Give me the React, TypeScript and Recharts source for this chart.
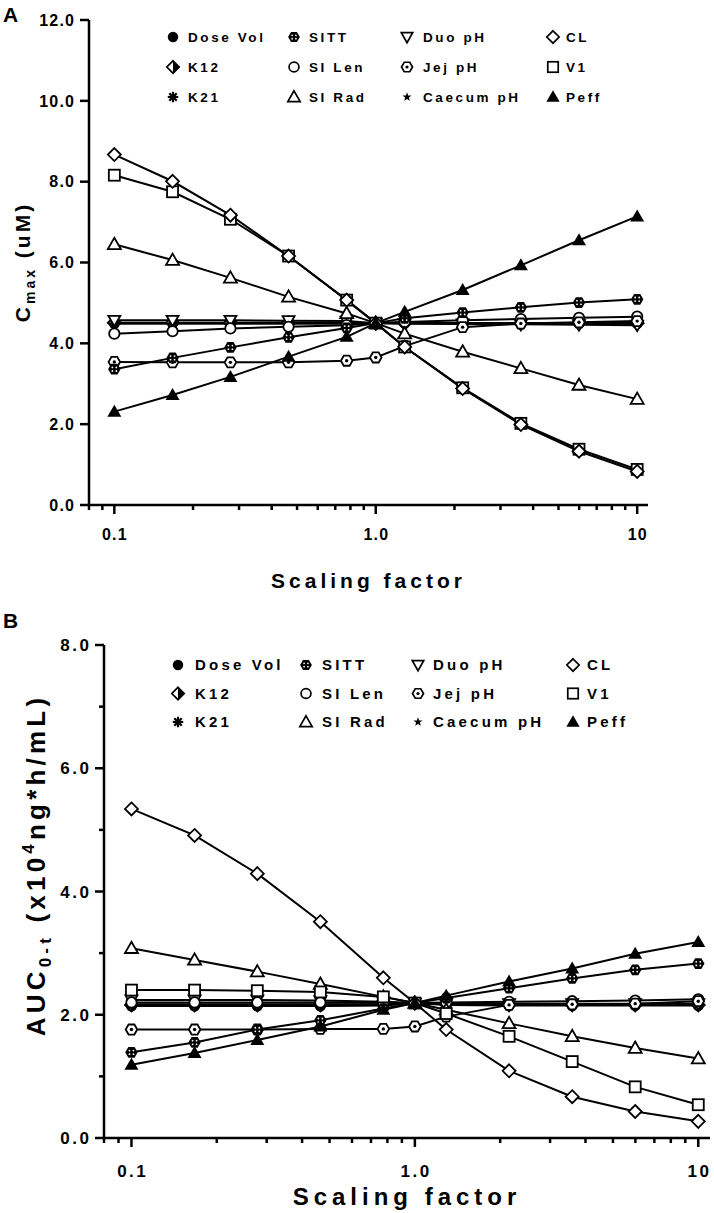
import React from 'react'
import { LineChart, Line, XAxis, YAxis } from 'recharts'

const FONT = '"Liberation Sans", Arial, Helvetica, sans-serif'

// scaling factors (log spaced)
const xs = [0.1, 0.167, 0.278, 0.464, 0.774, 1, 1.29, 2.15, 3.59, 5.99, 10]
const xTicks = [0.08, 0.09, 0.1, 0.2, 0.3, 0.4, 0.5, 0.6, 0.7, 0.8, 0.9, 1, 2, 3, 4, 5, 6, 7, 8, 9, 10]
const xMajor = [0.1, 1, 10]
const xLabels: Record<string, string> = { '0.1': '0.1', '1': '1.0', '10': '10' }
const yTicksA = [0, 2, 4, 6, 8, 10, 12]
const yTicksB = [0, 1, 2, 3, 4, 5, 6, 7, 8]

// panel A: Cmax (uM)
const doseVolA = [4.5, 4.5, 4.5, 4.5, 4.5, 4.5, 4.52, 4.5, 4.5, 4.5, 4.5]
const sittA = [3.36, 3.64, 3.9, 4.15, 4.38, 4.5, 4.62, 4.76, 4.89, 5.01, 5.09]
const duoA = [4.57, 4.57, 4.57, 4.56, 4.55, 4.5, 4.49, 4.48, 4.47, 4.46, 4.45]
const clA = [8.67, 8.01, 7.17, 6.16, 5.07, 4.5, 3.91, 2.88, 1.99, 1.33, 0.83]
const k12A = [4.51, 4.51, 4.51, 4.51, 4.51, 4.5, 4.5, 4.5, 4.5, 4.5, 4.5]
const siLenA = [4.24, 4.3, 4.37, 4.41, 4.45, 4.5, 4.53, 4.57, 4.6, 4.63, 4.66]
const jejA = [3.54, 3.53, 3.53, 3.53, 3.57, 3.65, 3.93, 4.4, 4.49, 4.52, 4.55]
const v1A = [8.16, 7.75, 7.07, 6.16, 5.07, 4.5, 3.91, 2.9, 2.02, 1.38, 0.88]
const k21A = [4.49, 4.49, 4.49, 4.49, 4.49, 4.5, 4.5, 4.49, 4.49, 4.49, 4.49]
const siRadA = [6.45, 6.06, 5.62, 5.15, 4.74, 4.5, 4.24, 3.79, 3.38, 2.97, 2.62]
const caecumA = [4.5, 4.5, 4.5, 4.5, 4.5, 4.5, 4.5, 4.5, 4.5, 4.5, 4.5]
const peffA = [2.31, 2.72, 3.17, 3.67, 4.16, 4.5, 4.78, 5.32, 5.93, 6.55, 7.14]

// panel B: AUC0-t (x10^4 ng*h/mL)
const doseVolB = [2.14, 2.14, 2.14, 2.14, 2.15, 2.19, 2.16, 2.15, 2.15, 2.15, 2.15]
const sittB = [1.39, 1.55, 1.76, 1.91, 2.1, 2.19, 2.27, 2.43, 2.59, 2.73, 2.83]
const duoB = [2.24, 2.24, 2.24, 2.23, 2.21, 2.19, 2.19, 2.18, 2.18, 2.18, 2.18]
const clB = [5.34, 4.91, 4.29, 3.51, 2.6, 2.19, 1.76, 1.09, 0.67, 0.43, 0.27]
const k12B = [2.16, 2.16, 2.16, 2.16, 2.17, 2.19, 2.17, 2.16, 2.16, 2.16, 2.16]
const siLenB = [2.2, 2.2, 2.2, 2.2, 2.2, 2.19, 2.2, 2.21, 2.22, 2.23, 2.25]
const jejB = [1.76, 1.76, 1.76, 1.77, 1.77, 1.81, 1.97, 2.16, 2.17, 2.18, 2.22]
const v1B = [2.4, 2.4, 2.39, 2.37, 2.29, 2.19, 2.02, 1.65, 1.24, 0.83, 0.54]
const k21B = [2.15, 2.15, 2.15, 2.15, 2.16, 2.19, 2.17, 2.16, 2.16, 2.16, 2.16]
const siRadB = [3.08, 2.89, 2.7, 2.5, 2.29, 2.19, 2.08, 1.86, 1.65, 1.46, 1.29]
const caecumB = [2.17, 2.17, 2.17, 2.17, 2.17, 2.19, 2.18, 2.17, 2.17, 2.17, 2.17]
const peffB = [1.19, 1.38, 1.59, 1.81, 2.08, 2.19, 2.31, 2.54, 2.75, 2.99, 3.18]

type Shape =
  | 'circle' | 'hexFill' | 'triDown' | 'diamond' | 'diamondHalf' | 'circleOpen'
  | 'hexDot' | 'square' | 'asterisk' | 'triUp' | 'star' | 'triFill'

// legend order (row by row, 4 columns)
const series: { key: string; name: string; shape: Shape; a: number[]; b: number[] }[] = [
  { key: 'doseVol', name: 'Dose Vol', shape: 'circle', a: doseVolA, b: doseVolB },
  { key: 'sitt', name: 'SITT', shape: 'hexFill', a: sittA, b: sittB },
  { key: 'duo', name: 'Duo pH', shape: 'triDown', a: duoA, b: duoB },
  { key: 'cl', name: 'CL', shape: 'diamond', a: clA, b: clB },
  { key: 'k12', name: 'K12', shape: 'diamondHalf', a: k12A, b: k12B },
  { key: 'siLen', name: 'SI Len', shape: 'circleOpen', a: siLenA, b: siLenB },
  { key: 'jej', name: 'Jej pH', shape: 'hexDot', a: jejA, b: jejB },
  { key: 'v1', name: 'V1', shape: 'square', a: v1A, b: v1B },
  { key: 'k21', name: 'K21', shape: 'asterisk', a: k21A, b: k21B },
  { key: 'siRad', name: 'SI Rad', shape: 'triUp', a: siRadA, b: siRadB },
  { key: 'caecum', name: 'Caecum pH', shape: 'star', a: caecumA, b: caecumB },
  { key: 'peff', name: 'Peff', shape: 'triFill', a: peffA, b: peffB },
]

// draw order: V1 under CL
const drawOrder = ['doseVol', 'k12', 'k21', 'caecum', 'duo', 'siLen', 'jej', 'sitt', 'siRad', 'v1', 'cl', 'peff']

const dataA = xs.map((x, i) => {
  const row: Record<string, number> = { x }
  series.forEach(s => { row[s.key] = s.a[i] })
  return row
})
const dataB = xs.map((x, i) => {
  const row: Record<string, number> = { x }
  series.forEach(s => { row[s.key] = s.b[i] })
  return row
})

function hexPoints(r: number) {
  const pts = []
  for (let k = 0; k < 6; k++) {
    const a = (Math.PI / 3) * k
    pts.push(`${(r * Math.cos(a)).toFixed(2)},${(r * Math.sin(a)).toFixed(2)}`)
  }
  return pts.join(' ')
}

function starPoints(r: number) {
  const pts = []
  for (let k = 0; k < 10; k++) {
    const rr = k % 2 === 0 ? r : r * 0.42
    const a = -Math.PI / 2 + (Math.PI / 5) * k
    pts.push(`${(rr * Math.cos(a)).toFixed(2)},${(rr * Math.sin(a)).toFixed(2)}`)
  }
  return pts.join(' ')
}

function Marker({ cx, cy, shape, scale = 1 }: { cx: number; cy: number; shape: Shape; scale?: number }) {
  const sw = 1.8
  let body: React.ReactNode = null
  switch (shape) {
    case 'circle':
      body = <circle r={5.5} fill="#000" />
      break
    case 'circleOpen':
      body = <circle r={5.2} fill="#fff" stroke="#000" strokeWidth={sw} />
      break
    case 'hexFill':
      body = (
        <g>
          <polygon points={hexPoints(6.2)} fill="#000" />
          <circle cx={-2} cy={-1.8} r={0.9} fill="#fff" />
          <circle cx={2} cy={-1.8} r={0.9} fill="#fff" />
          <circle cx={-2} cy={1.8} r={0.9} fill="#fff" />
          <circle cx={2} cy={1.8} r={0.9} fill="#fff" />
        </g>
      )
      break
    case 'hexDot':
      body = (
        <g>
          <polygon points={hexPoints(5.8)} fill="#fff" stroke="#000" strokeWidth={sw} />
          <circle r={1.7} fill="#000" />
        </g>
      )
      break
    case 'triDown':
      body = <polygon points="-6,-4.5 6,-4.5 0,6" fill="#fff" stroke="#000" strokeWidth={sw} />
      break
    case 'triUp':
      body = <polygon points="0,-6.5 6.5,4.8 -6.5,4.8" fill="#fff" stroke="#000" strokeWidth={sw} />
      break
    case 'triFill':
      body = <polygon points="0,-7 7,5 -7,5" fill="#000" />
      break
    case 'diamond':
      body = <polygon points="0,-6.5 6.5,0 0,6.5 -6.5,0" fill="#fff" stroke="#000" strokeWidth={sw} />
      break
    case 'diamondHalf':
      body = (
        <g>
          <polygon points="0,-6.5 6.5,0 0,6.5 -6.5,0" fill="#fff" stroke="#000" strokeWidth={sw} />
          <polygon points="0,-6.5 6.5,0 0,6.5" fill="#000" />
        </g>
      )
      break
    case 'square':
      body = <rect x={-5.5} y={-5.5} width={11} height={11} fill="#fff" stroke="#000" strokeWidth={sw} />
      break
    case 'asterisk':
      body = (
        <g stroke="#000" strokeWidth={2.3} strokeLinecap="butt">
          <line x1={0} y1={-5.5} x2={0} y2={5.5} />
          <line x1={-5.5} y1={0} x2={5.5} y2={0} />
          <line x1={-3.9} y1={-3.9} x2={3.9} y2={3.9} />
          <line x1={-3.9} y1={3.9} x2={3.9} y2={-3.9} />
        </g>
      )
      break
    case 'star':
      body = <polygon points={starPoints(5)} fill="#000" />
      break
  }
  return <g transform={`translate(${cx},${cy}) scale(${scale})`}>{body}</g>
}

function makeXTick(fontSize: number, ls: number, labelDy: number) {
  return (props: any) => {
    const { x, y, payload } = props
    const v = payload.value
    const major = xMajor.includes(v)
    return (
      <g>
        <line x1={x} y1={y} x2={x} y2={y + (major ? 9 : 5)} stroke="#000" strokeWidth={2.5} />
        {major && (
          <text x={x + ls / 2} y={y + labelDy} textAnchor="middle" fontFamily={FONT} fontWeight="bold"
            fontSize={fontSize} letterSpacing={ls} fill="#000">
            {xLabels[String(v)]}
          </text>
        )}
      </g>
    )
  }
}

function makeYTick(fontSize: number, ls: number, labelled: (v: number) => boolean) {
  return (props: any) => {
    const { x, y, payload } = props
    const v = payload.value
    const major = labelled(v)
    return (
      <g>
        <line x1={x - (major ? 9 : 5)} y1={y} x2={x} y2={y} stroke="#000" strokeWidth={2.5} />
        {major && (
          <text x={x - 15 + ls} y={y + fontSize * 0.36} textAnchor="end" fontFamily={FONT} fontWeight="bold"
            fontSize={fontSize} letterSpacing={ls} fill="#000">
            {v.toFixed(1)}
          </text>
        )}
      </g>
    )
  }
}

function Lines() {
  return drawOrder.map(k => {
    const s = series.find(t => t.key === k)!
    return (
      <Line
        key={k}
        type="linear"
        dataKey={k}
        stroke="#000"
        strokeWidth={2}
        isAnimationActive={false}
        activeDot={false}
        dot={(p: any) => <Marker key={`${k}-${p.index}`} cx={p.cx} cy={p.cy} shape={s.shape} />}
      />
    )
  })
}

function LegendBlock({ top, cols, textCols, rowGap, fontSize, ls }: {
  top: number; cols: number[]; textCols: number[]; rowGap: number; fontSize: number; ls: number
}) {
  return (
    <g>
      {series.map((s, i) => {
        const r = Math.floor(i / 4)
        const c = i % 4
        const cy = top + r * rowGap
        return (
          <g key={s.key}>
            <Marker cx={cols[c]} cy={cy} shape={s.shape} scale={0.95} />
            <text x={textCols[c]} y={cy + fontSize * 0.36} fontFamily={FONT} fontWeight="bold"
              fontSize={fontSize} letterSpacing={ls} fill="#000">
              {s.name}
            </text>
          </g>
        )
      })}
    </g>
  )
}

const axisStroke = { stroke: '#000', strokeWidth: 2.5 }

export default function App() {
  return (
    <div style={{ position: 'absolute', left: 0, top: 0, width: 714, height: 1213, background: '#fff' }}>
      <div style={{ position: 'absolute', left: 0, top: 0 }}>
        <LineChart width={714} height={600} data={dataA} margin={{ top: 20, right: 66, bottom: 0, left: 0 }}>
          <XAxis
            dataKey="x" type="number" scale="log" domain={[0.08, 11]} allowDataOverflow
            ticks={xTicks} interval={0} tickSize={0} tickMargin={0} tickLine={false}
            axisLine={axisStroke} height={95}
            tick={makeXTick(16, 1.2, 35)}
            label={{ value: 'Scaling factor', position: 'insideBottom', offset: 12, fontFamily: FONT, fontWeight: 'bold', fontSize: 21, letterSpacing: 4, fill: '#000' }}
          />
          <YAxis
            type="number" domain={[0, 12]} ticks={yTicksA} interval={0} width={89}
            tickSize={0} tickMargin={0} tickLine={false} axisLine={axisStroke}
            tick={makeYTick(16, 1.2, () => true)}
          />
          {Lines()}
        </LineChart>
      </div>
      <div style={{ position: 'absolute', left: 0, top: 600 }}>
        <LineChart width={714} height={613} data={dataB} margin={{ top: 45, right: 4, bottom: 0, left: 0 }}>
          <XAxis
            dataKey="x" type="number" scale="log" domain={[0.08, 11]} allowDataOverflow
            ticks={xTicks} interval={0} tickSize={0} tickMargin={0} tickLine={false}
            axisLine={axisStroke} height={75}
            tick={makeXTick(17, 2.5, 39)}
            label={{ value: 'Scaling factor', position: 'insideBottom', offset: 8, fontFamily: FONT, fontWeight: 'bold', fontSize: 24, letterSpacing: 5, fill: '#000' }}
          />
          <YAxis
            type="number" domain={[0, 8]} ticks={yTicksB} interval={0} width={104}
            tickSize={0} tickMargin={0} tickLine={false} axisLine={axisStroke}
            tick={makeYTick(17, 2.5, v => v % 2 === 0)}
          />
          {Lines()}
        </LineChart>
      </div>
      <svg width={714} height={1213} style={{ position: 'absolute', left: 0, top: 0, pointerEvents: 'none' }}>
        <text x={3} y={22} fontFamily={FONT} fontWeight="bold" fontSize={21} fill="#000">A</text>
        <text x={3} y={628} fontFamily={FONT} fontWeight="bold" fontSize={21} fill="#000">B</text>
        <text transform="translate(30,262) rotate(-90)" textAnchor="middle" fontFamily={FONT} fontWeight="bold"
          fontSize={21} letterSpacing={3} fill="#000">
          C<tspan fontSize={14} dy={5}>max</tspan><tspan dy={-5}> (uM)</tspan>
        </text>
        <text transform="translate(45,865) rotate(-90)" textAnchor="middle" fontFamily={FONT} fontWeight="bold"
          fontSize={26} letterSpacing={4.2} fill="#000">
          AUC<tspan fontSize={17} dy={6}>0-t</tspan><tspan dy={-6}> (x10</tspan><tspan fontSize={17} dy={-11}>4</tspan><tspan dy={11}>ng*h/mL)</tspan>
        </text>
        <LegendBlock top={37} cols={[173, 294, 407, 553]} textCols={[188, 309, 423, 566]} rowGap={30} fontSize={13.5} ls={2.6} />
        <LegendBlock top={665} cols={[178, 306, 418, 573]} textCols={[195, 322, 433, 587]} rowGap={28.5} fontSize={15} ls={3.2} />
      </svg>
    </div>
  )
}
